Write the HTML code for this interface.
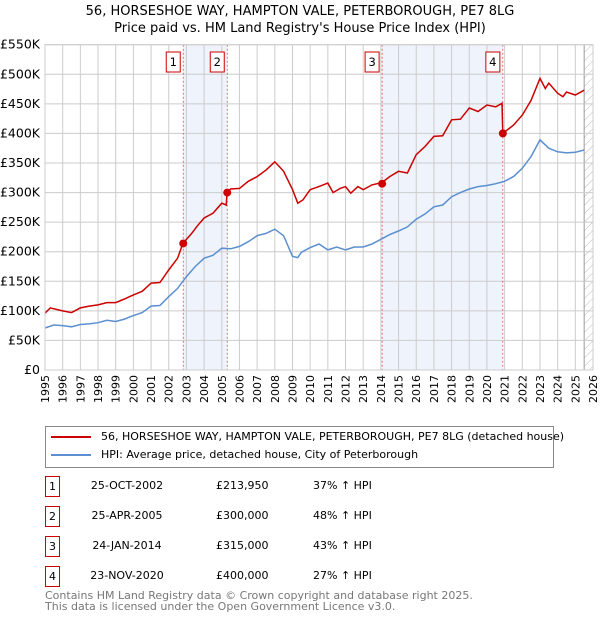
<!DOCTYPE html>
<html><head><meta charset="utf-8"><style>
body{margin:0;width:600px;height:620px;background:#fff;font-family:"Liberation Sans","DejaVu Sans",sans-serif;overflow:hidden}
</style></head><body>
<div style="position:absolute;left:0;width:600px;top:3px;text-align:center;font-size:13px;line-height:17px;font-family:'DejaVu Sans',sans-serif">56, HORSESHOE WAY, HAMPTON VALE, PETERBOROUGH, PE7 8LG<br>Price paid vs. HM Land Registry's House Price Index (HPI)</div>
<svg id="c" width="600" height="410" style="position:absolute;left:0;top:0" font-family="DejaVu Sans, sans-serif"></svg>
<div style="position:absolute;left:45px;top:426px;width:507px;height:40px;border:1px solid #888;font-family:'DejaVu Sans',sans-serif;font-size:11px;white-space:nowrap">
<div style="position:absolute;left:5px;top:3px"><span style="display:inline-block;width:40px;height:2px;background:#cc0000;vertical-align:middle;margin-right:10px"></span>56, HORSESHOE WAY, HAMPTON VALE, PETERBOROUGH, PE7 8LG (detached house)</div>
<div style="position:absolute;left:5px;top:21px"><span style="display:inline-block;width:40px;height:2px;background:#5b8fd0;vertical-align:middle;margin-right:10px"></span>HPI: Average price, detached house, City of Peterborough</div>
</div>
<div id="tbl" style="font-family:'DejaVu Sans',sans-serif;font-size:11px"></div>
<div style="position:absolute;left:45px;top:590px;font-size:11px;line-height:11px;color:#777;font-family:'DejaVu Sans',sans-serif">Contains HM Land Registry data © Crown copyright and database right 2025.<br>This data is licensed under the Open Government Licence v3.0.</div>
<script>
const hpiYears=[1995,1995.5,1996,1996.5,1997,1997.5,1998,1998.5,1999,1999.5,2000,2000.5,2001,2001.5,2002,2002.5,2003,2003.5,2004,2004.5,2005,2005.5,2006,2006.5,2007,2007.5,2008,2008.5,2009,2009.3,2009.5,2010,2010.5,2011,2011.5,2012,2012.5,2013,2013.5,2014,2014.5,2015,2015.5,2016,2016.5,2017,2017.5,2018,2018.5,2019,2019.5,2020,2020.5,2021,2021.5,2022,2022.5,2023,2023.5,2024,2024.5,2025,2025.5];
const hpiValues=[71,76,75,73,77,78,80,84,82,86,92,97,108,109,124,138,158,175,189,194,206,205,209,217,227,231,238,227,192,190,199,207,213,203,208,203,208,208,213,221,229,235,242,255,264,276,279,293,300,306,310,312,315,319,327,341,361,389,375,369,367,368,372];
const propYears=[1995,1995.3,1996,1996.5,1997,1997.5,1998,1998.5,1999,1999.5,2000,2000.5,2001,2001.5,2002,2002.5,2002.8,2003.3,2003.6,2004,2004.5,2005,2005.25,2005.3,2005.5,2006,2006.5,2007,2007.5,2008,2008.5,2009,2009.3,2009.6,2010,2010.5,2011,2011.3,2011.7,2012,2012.3,2012.7,2013,2013.5,2014.07,2014.5,2015,2015.5,2016,2016.5,2017,2017.5,2018,2018.5,2019,2019.5,2020,2020.5,2020.85,2020.9,2021.5,2022,2022.5,2023,2023.3,2023.5,2024,2024.3,2024.5,2025,2025.5];
const propValues=[96,105,100,97,105,108,110,114,114,120,127,133,147,148,169,189,214,231,243,257,265,282,279,300,306,307,319,327,338,352,336,305,282,288,305,310,316,300,307,310,299,310,305,313,317,327,336,333,364,378,395,396,423,424,443,437,448,445,451,400,414,431,456,493,476,485,468,462,470,465,473];
const saleYears=[2002.82,2005.31,2014.07,2020.9];
const saleValues=[213.95,300,315,400];
const saleLabels=["1","2","3","4"];
const saleDates=["25-OCT-2002","25-APR-2005","24-JAN-2014","23-NOV-2020"];
const salePrices=["£213,950","£300,000","£315,000","£400,000"];
const saleDiffs=["37% ↑ HPI","48% ↑ HPI","43% ↑ HPI","27% ↑ HPI"];
const yTicks=[0,50,100,150,200,250,300,350,400,450,500,550];
const yTickLabels=["£0","£50K","£100K","£150K","£200K","£250K","£300K","£350K","£400K","£450K","£500K","£550K"];
const xTicks=[1995,1996,1997,1998,1999,2000,2001,2002,2003,2004,2005,2006,2007,2008,2009,2010,2011,2012,2013,2014,2015,2016,2017,2018,2019,2020,2021,2022,2023,2024,2025,2026];
const X0=45,X1=593,Y0=370,Y1=44.7;
const xs=y=>X0+(y-1995)/31*(X1-X0);
const ys=v=>Y0-(v/550)*(Y0-Y1);
const svg=document.getElementById('c');const NS='http://www.w3.org/2000/svg';
function mk(tag,attrs,parent){const e=document.createElementNS(NS,tag);for(const k in attrs)e.setAttribute(k,attrs[k]);(parent||svg).appendChild(e);return e;}
const defs=mk('defs',{});
const pat=mk('pattern',{id:'h',width:6,height:6,patternUnits:'userSpaceOnUse',patternTransform:'rotate(45)'},defs);
mk('line',{x1:0,y1:0,x2:0,y2:6,stroke:'#bbb','stroke-width':1},pat);
[[0,1],[2,3]].forEach((p,i)=>{const r=mk('rect',{x:xs(saleYears[p[0]]),y:Y1,width:xs(saleYears[p[1]])-xs(saleYears[p[0]]),height:Y0-Y1,fill:'#eef3fc'});

});
const hx=xs(2025.5);
const hr=mk('rect',{x:hx,y:Y1,width:X1-hx,height:Y0-Y1,fill:'url(#h)'});


mk('line',{x1:hx,y1:Y1,x2:hx,y2:Y0,stroke:'#999','stroke-width':1});
xTicks.forEach(t=>{mk('line',{x1:xs(t),y1:Y1,x2:xs(t),y2:Y0,stroke:'#ccc','stroke-width':1});
const tx=mk('text',{x:0,y:0,'text-anchor':'end','font-size':11,transform:'translate('+(xs(t)+4)+',375) rotate(-90)'});tx.textContent=t;

});
yTicks.forEach((t,i)=>{mk('line',{x1:X0,y1:ys(t),x2:X1,y2:ys(t),stroke:'#ccc','stroke-width':1});
const tx=mk('text',{x:40,y:ys(t)+4,'text-anchor':'end','font-size':12.5});tx.textContent=yTickLabels[i];

});
saleYears.forEach((y,i)=>{mk('line',{x1:xs(y),y1:Y1,x2:xs(y),y2:Y0,stroke:'#e05050','stroke-width':0.8,'stroke-dasharray':'2,2'});
const bx=mk('rect',{x:xs(y)-17,y:52,width:14,height:20,fill:'#fff',stroke:'#cc0000'});


const t=mk('text',{x:xs(y)-10,y:66,'text-anchor':'middle','font-size':11.5});t.textContent=saleLabels[i];});
function line(xa,va,col,name){const d=xa.map((y,i)=>(i?'L':'M')+xs(y).toFixed(1)+','+ys(va[i]).toFixed(1)).join('');
const p=mk('path',{d:d,fill:'none',stroke:col,'stroke-width':1.5});

}
line(hpiYears,hpiValues,'#5b8fd0','hpi-line');
line(propYears,propValues,'#cc0000','property-price-line');
saleYears.forEach((y,i)=>{const c=mk('circle',{cx:xs(y),cy:ys(saleValues[i]),r:4,fill:'#cc0000'});

});
mk('rect',{x:X0,y:Y1,width:X1-X0,height:Y0-Y1,fill:'none',stroke:'#ccc'});
const tbl=document.getElementById('tbl');
saleLabels.forEach((l,i)=>{const top=476+i*30;const row=document.createElement('div');


row.style.cssText='position:absolute;left:0;top:'+top+'px;width:600px;height:22px';
row.innerHTML='<div style="position:absolute;left:45px;top:0;width:13px;height:19px;border:1px solid #cc0000;text-align:center;line-height:19px">'+l+'</div>'+
'<div style="position:absolute;left:62px;width:130px;text-align:center;top:3px">'+saleDates[i]+'</div>'+
'<div style="position:absolute;left:216px;top:3px">'+salePrices[i]+'</div>'+
'<div style="position:absolute;left:313px;top:3px">'+saleDiffs[i]+'</div>';
tbl.appendChild(row);});
</script>
</body></html>
